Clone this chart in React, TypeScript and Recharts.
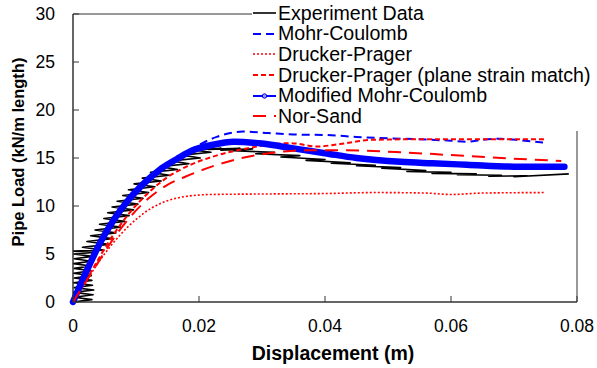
import { LineChart, Line, XAxis, YAxis, ReferenceArea, Legend, Label } from 'recharts';

const xTicks = [0, 0.02, 0.04, 0.06, 0.08];
const yTicks = [0, 5, 10, 15, 20, 25, 30];

// [displacement (m), load (kN/m)]
const experiment = [
  [0, 0], [0.003, 0.25], [0.0002, 0.5], [0.0032, 0.75], [0.0001, 1.0], [0.0033, 1.25], [0.0002, 1.5],
  [0.0031, 1.75], [0.0001, 2.0], [0.003, 2.25], [0.0002, 2.5], [0.0029, 2.75], [0.0001, 3.0],
  [0.0028, 3.25], [0.0002, 3.5], [0.0028, 3.75], [0.0001, 4.0], [0.0029, 4.25], [0.0002, 4.5],
  [0.0031, 4.75], [0.0001, 5.0], [0.0033, 5.15], [0.0001, 5.3],
  [0.0049, 5.4], [0.0015, 5.7], [0.0056, 6.0], [0.0022, 6.3], [0.0062, 6.6], [0.0028, 6.9],
  [0.0068, 7.2], [0.0035, 7.5], [0.0075, 7.8], [0.0042, 8.1], [0.0082, 8.4], [0.0049, 8.7],
  [0.0089, 9.0], [0.0055, 9.3], [0.0096, 9.6], [0.0062, 9.9], [0.0103, 10.2], [0.007, 10.5],
  [0.0111, 10.8], [0.0079, 11.1], [0.012, 11.4], [0.0088, 11.7], [0.013, 12.0], [0.0097, 12.3],
  [0.014, 12.6], [0.011, 12.9], [0.0153, 13.2], [0.0123, 13.5], [0.0166, 13.8], [0.0138, 14.1],
  [0.0184, 14.4], [0.0156, 14.7], [0.0202, 15.0], [0.0173, 15.3], [0.0219, 15.6], [0.019, 15.85],
  [0.0235, 16.0], [0.0215, 15.9], [0.0265, 16.0], [0.0235, 15.8], [0.0285, 15.95], [0.0255, 15.75],
  [0.032, 15.6], [0.029, 15.45], [0.036, 15.25], [0.033, 15.1], [0.04, 14.85], [0.037, 14.75],
  [0.044, 14.5], [0.041, 14.45], [0.048, 14.25], [0.045, 14.2], [0.052, 14.0], [0.049, 13.95],
  [0.056, 13.7], [0.053, 13.6], [0.06, 13.5], [0.057, 13.4], [0.064, 13.35], [0.061, 13.25],
  [0.068, 13.2], [0.066, 13.1], [0.072, 13.15], [0.07, 13.05], [0.0787, 13.35],
];

const mohrCoulomb = [
  [0, 0], [0.002, 3.0], [0.0045, 6.4], [0.0065, 8.6], [0.0085, 10.4], [0.011, 12.3], [0.0138, 13.9],
  [0.0165, 15.0], [0.019, 16.0], [0.0228, 17.2], [0.027, 17.75], [0.031, 17.6], [0.035, 17.45],
  [0.04, 17.4], [0.045, 17.2], [0.05, 17.05], [0.055, 16.95], [0.06, 16.8], [0.0625, 16.7],
  [0.065, 16.9], [0.0678, 17.0], [0.071, 16.85], [0.0746, 16.6],
];

const druckerPrager = [
  [0, 0], [0.0025, 2.6], [0.005, 5.0], [0.0075, 7.0], [0.01, 8.6], [0.0125, 9.8], [0.015, 10.55],
  [0.0185, 11.05], [0.022, 11.2], [0.03, 11.25], [0.04, 11.3], [0.048, 11.4], [0.056, 11.35],
  [0.06, 11.2], [0.065, 11.35], [0.075, 11.4],
];

const druckerPragerPs = [
  [0, 0], [0.003, 3.3], [0.006, 6.6], [0.009, 9.3], [0.012, 11.4], [0.015, 13.0], [0.018, 14.1],
  [0.022, 15.1], [0.0276, 16.0], [0.032, 16.45], [0.0345, 16.55], [0.0387, 16.2], [0.0424, 16.45],
  [0.0476, 16.9], [0.055, 16.95], [0.065, 16.95], [0.075, 16.95],
];

const modifiedMc = [
  [0, 0], [0.002, 3.0], [0.0045, 6.4], [0.0065, 8.6], [0.0085, 10.4], [0.011, 12.2], [0.0138, 13.8],
  [0.0165, 14.9], [0.019, 15.8], [0.022, 16.35], [0.0255, 16.7], [0.03, 16.5], [0.035, 16.0],
  [0.04, 15.5], [0.045, 15.0], [0.052, 14.6], [0.057, 14.45], [0.0625, 14.3], [0.07, 14.1],
  [0.078, 14.1],
];

const norSand = [
  [0, 0], [0.003, 3.1], [0.006, 6.2], [0.009, 8.8], [0.012, 10.8], [0.015, 12.2], [0.018, 13.1],
  [0.022, 14.1], [0.0265, 14.95], [0.033, 15.65], [0.036, 15.8], [0.0424, 15.8], [0.052, 15.6],
  [0.06, 15.3], [0.068, 15.0], [0.0775, 14.7],
];

const toPoints = (pts: number[][]) => pts.map(([x, y]) => ({ x, y }));

const font = 'Arial, "Liberation Sans", sans-serif';

const series = [
  { name: 'Experiment Data', data: experiment, color: '#000', width: 1.6, dash: undefined, smooth: false },
  { name: 'Mohr-Coulomb', data: mohrCoulomb, color: '#0000ff', width: 2, dash: '8 5', smooth: true },
  { name: 'Drucker-Prager', data: druckerPrager, color: '#ff0000', width: 1.6, dash: '2 2', smooth: true },
  { name: 'Drucker-Prager (plane strain match)', data: druckerPragerPs, color: '#ff0000', width: 2, dash: '5 3', smooth: true },
  { name: 'Modified Mohr-Coulomb', data: modifiedMc, color: '#0000ff', width: 6.5, dash: undefined, smooth: true },
  { name: 'Nor-Sand', data: norSand, color: '#ff0000', width: 2, dash: '13 8', smooth: true },
];

function LegendBox() {
  return (
    <div style={{ background: '#fff', width: 345, height: 128, paddingTop: 3, fontFamily: font }}>
      {series.map((s) => (
        <div key={s.name} style={{ display: 'flex', alignItems: 'center', height: 20.6, whiteSpace: 'nowrap' }}>
          <svg width={25} height={20} style={{ flex: 'none' }}>
            <line
              x1={1}
              x2={24}
              y1={10}
              y2={10}
              stroke={s.color}
              strokeWidth={s.name === 'Modified Mohr-Coulomb' ? 2 : Math.min(s.width, 2)}
              strokeDasharray={s.dash}
            />
            {s.name === 'Modified Mohr-Coulomb' && (
              <circle cx={12.5} cy={10} r={2.2} fill="#9999ff" stroke="#0000ff" strokeWidth={1} />
            )}
          </svg>
          <span style={{ fontSize: 19.6, color: '#000', marginLeft: 1 }}>{s.name}</span>
        </div>
      ))}
    </div>
  );
}

export default function App() {
  return (
    <div style={{ position: 'absolute', left: 0, top: 0, width: 597, height: 368, background: '#fff', fontFamily: font }}>
      <LineChart width={597} height={368} margin={{ top: 14, right: 20, left: 0, bottom: 0 }}>
        <XAxis
          type="number"
          dataKey="x"
          domain={[0, 0.08]}
          ticks={xTicks}
          allowDuplicatedCategory={false}
          height={66}
          tickSize={-6}
          tickMargin={24}
          axisLine={{ stroke: '#333' }}
          tickLine={{ stroke: '#333' }}
          tick={{ fill: '#000', fontSize: 17.5 }}
        >
          <Label
            content={({ viewBox }: any) => (
              <text x={viewBox.x + viewBox.width / 2 + 8} y={viewBox.y + 58} textAnchor="middle" fontSize={19.5} fontWeight="bold" fill="#000">
                Displacement (m)
              </text>
            )}
          />
        </XAxis>
        <YAxis
          type="number"
          dataKey="y"
          domain={[0, 30]}
          ticks={yTicks}
          width={73}
          tickSize={-6}
          tickMargin={24}
          axisLine={{ stroke: '#333' }}
          tickLine={{ stroke: '#333' }}
          tick={{ fill: '#000', fontSize: 17.5 }}
        >
          <Label
            content={({ viewBox }: any) => (
              <text
                transform={`translate(24, ${viewBox.y + viewBox.height / 2 - 6}) rotate(-90)`}
                textAnchor="middle"
                fontSize={16.5}
                fontWeight="bold"
                fill="#000"
              >
                Pipe Load (kN/m length)
              </text>
            )}
          />
        </YAxis>
        <ReferenceArea x1={0} x2={0.08} y1={0} y2={30} fill="none" stroke="#333" strokeWidth={1} ifOverflow="visible" />
        {series.map((s) => (
          <Line
            key={s.name}
            name={s.name}
            data={toPoints(s.data)}
            dataKey="y"
            type={s.smooth ? 'monotone' : 'linear'}
            stroke={s.color}
            strokeWidth={s.width}
            strokeDasharray={s.dash}
            strokeLinecap={s.width > 3 ? 'round' : 'butt'}
            strokeLinejoin="round"
            dot={false}
            activeDot={false}
            isAnimationActive={false}
          />
        ))}
        <Legend
          layout="vertical"
          align="center"
          verticalAlign="middle"
          content={() => <LegendBox />}
          wrapperStyle={{ position: 'absolute', left: 252, top: 0, width: 345, height: 128 }}
        />
      </LineChart>
    </div>
  );
}
